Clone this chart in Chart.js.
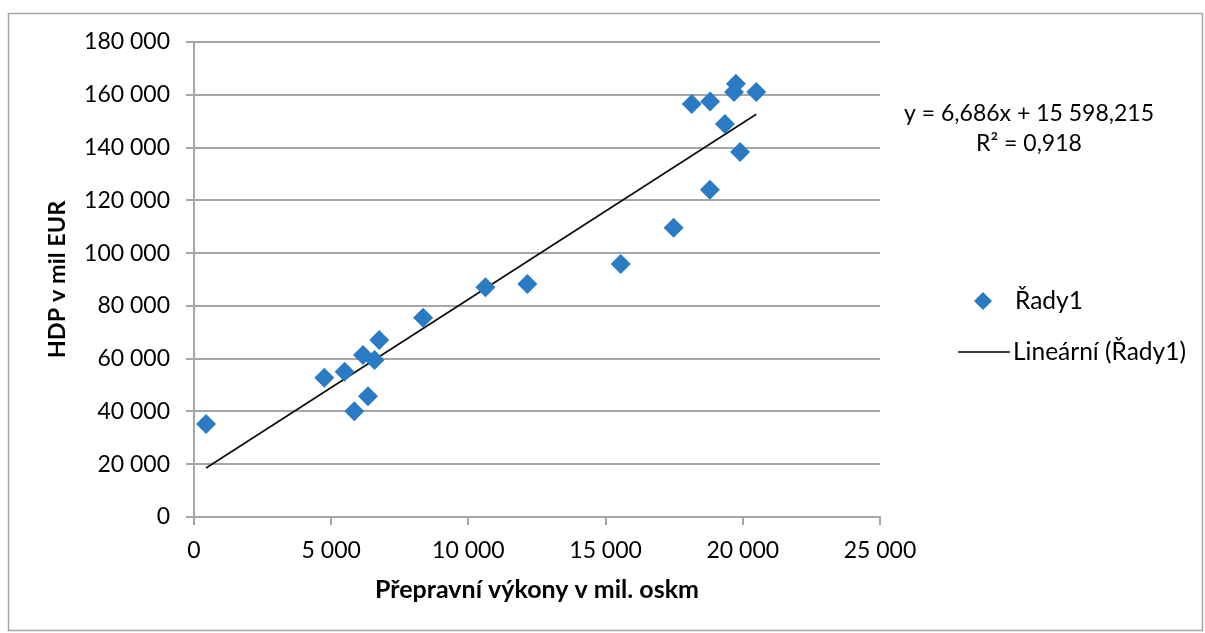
<!DOCTYPE html>
<html>
<head>
<meta charset="utf-8">
<script src="https://cdn.jsdelivr.net/npm/chart.js@4"></script>
<style>
  html, body { margin: 0; padding: 0; background: #fff; }
  #wrap { width: 1205px; height: 633px; position: relative; }
</style>
</head>
<body>
<div id="wrap"><canvas id="chart"></canvas></div>
<script>
// Přepravní výkony (mil. oskm) vs HDP (mil EUR)
const transportValues = [440, 4750, 5490, 5840, 6160, 6340, 6580, 6750, 8350, 10620, 12150, 15550, 17480,
    18140, 18810, 19750, 19680, 20490, 19350, 19900, 18800];
const gdpValues = [35200, 52800, 55000, 40100, 61400, 45800, 59500, 67100, 75500, 87100, 88300, 95900, 109600,
    156500, 157500, 164200, 161100, 161100, 148900, 138300, 124000];
const trendSlope = 6.686;
const trendIntercept = 15598.215;
const equationLines = ['y = 6,686x + 15 598,215', 'R\u00B2 = 0,918'];
const seriesName = 'Řady1';
const trendName = 'Lineární (Řady1)';
const xTitle = 'Přepravní výkony v mil. oskm';
const yTitle = 'HDP v mil EUR';

const FONT = 'Lato, "Open Sans", sans-serif';
const GRID = '#a6a6a6';
const BLUE = '#2a7bc4';

const fmt = v => String(v).replace(/\B(?=(\d{3})+(?!\d))/g, ' ');

const points = transportValues.map((x, i) => ({ x: x, y: gdpValues[i] }));
const xMin = Math.min(...transportValues);
const xMax = Math.max(...transportValues);
const trendPoints = [xMin, xMax].map(x => ({ x: x, y: trendSlope * x + trendIntercept }));

const extras = {
    id: 'extras',
    afterDraw(chart) {
        const ctx = chart.ctx;
        ctx.save();
        // outer frame
        ctx.strokeStyle = GRID;
        ctx.lineWidth = 1.5;
        ctx.strokeRect(8.5, 13.5, 1194, 617);
        // trendline equation
        ctx.fillStyle = '#000';
        ctx.font = '23px ' + FONT;
        ctx.textAlign = 'center';
        ctx.textBaseline = 'middle';
        ctx.fillText(equationLines[0], 1029, 114);
        ctx.fillText(equationLines[1], 1029, 144);
        // legend
        ctx.fillStyle = BLUE;
        ctx.beginPath();
        ctx.moveTo(983, 292); ctx.lineTo(992, 301); ctx.lineTo(983, 310); ctx.lineTo(974, 301);
        ctx.closePath();
        ctx.fill();
        ctx.strokeStyle = '#000';
        ctx.lineWidth = 1.5;
        ctx.beginPath();
        ctx.moveTo(958, 352); ctx.lineTo(1010, 352);
        ctx.stroke();
        ctx.fillStyle = '#000';
        ctx.font = '24.5px ' + FONT;
        ctx.textAlign = 'left';
        ctx.fillText(seriesName, 1015, 301);
        ctx.fillText(trendName, 1013, 352);
        ctx.restore();
    }
};

new Chart(document.getElementById('chart').getContext('2d'), {
    type: 'scatter',
    data: {
        datasets: [{
            label: seriesName,
            data: points,
            pointStyle: 'rectRot',
            pointRadius: 10,
            pointBackgroundColor: BLUE,
            pointBorderColor: BLUE,
            pointBorderWidth: 0,
            showLine: false
        }, {
            type: 'line',
            label: trendName,
            data: trendPoints,
            borderColor: '#111',
            borderWidth: 1.8,
            pointRadius: 0,
            fill: false
        }]
    },
    options: {
        responsive: true,
        maintainAspectRatio: false,
        animation: false,
        layout: { padding: { left: 0, right: 325, top: 42, bottom: 0 } },
        plugins: {
            legend: { display: false },
            tooltip: { enabled: false }
        },
        scales: {
            x: {
                type: 'linear',
                min: 0,
                max: 25000,
                afterFit: s => { s.height = 116; },
                ticks: { stepSize: 5000, padding: 12, color: '#000', font: { family: FONT, size: 23 }, callback: v => fmt(v) },
                grid: { drawOnChartArea: false, drawTicks: true, tickLength: 8, color: GRID, lineWidth: 2 },
                border: { display: true, color: GRID, width: 2 },
                title: { display: true, text: xTitle, color: '#000', font: { family: FONT, size: 25, weight: 'bold' }, padding: { top: 0, bottom: 28 } }
            },
            y: {
                type: 'linear',
                min: 0,
                max: 180000,
                afterFit: s => { s.width = 194; },
                ticks: { stepSize: 20000, padding: 16, color: '#000', font: { family: FONT, size: 23 }, callback: v => fmt(v) },
                grid: { drawTicks: true, tickLength: 8, color: GRID, lineWidth: 2 },
                border: { display: true, color: GRID, width: 2 },
                title: { display: true, text: yTitle, color: '#000', font: { family: FONT, size: 23.5, weight: 'bold' }, padding: { top: 43, bottom: 0 } }
            }
        }
    },
    plugins: [extras]
});
</script>
</body>
</html>
